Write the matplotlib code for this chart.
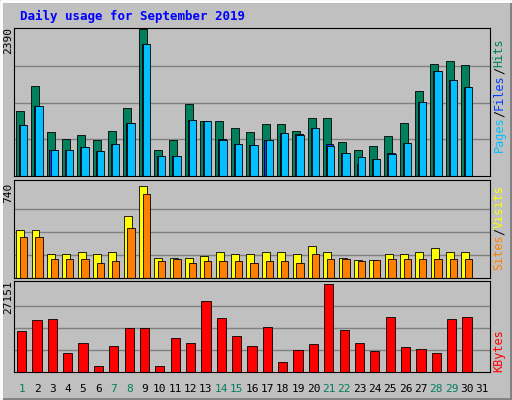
import matplotlib.pyplot as plt

days = list(range(1, 32))
hits = [1055, 1470, 725, 610, 675, 580, 740, 1105, 2390, 430, 580, 1170, 890, 890, 790,
        710, 840, 840, 740, 940, 940, 560, 430, 495, 645, 860, 1385, 1830, 1880, 1815, 0]
files = [830, 1140, 430, 430, 480, 400, 530, 860, 2150, 330, 330, 910, 890, 600, 530,
         510, 580, 700, 680, 780, 520, 380, 200, 280, 370, 545, 1205, 1715, 1570, 1450, 0]
pages = [825, 1140, 430, 430, 480, 400, 530, 860, 2145, 330, 330, 910, 890, 595, 530,
         510, 580, 695, 675, 775, 495, 380, 315, 280, 365, 545, 1205, 1715, 1570, 1450, 0]
visits = [385, 385, 195, 195, 210, 195, 210, 500, 740, 160, 160, 160, 175, 210, 195,
          195, 210, 210, 195, 255, 210, 160, 145, 145, 195, 195, 210, 240, 210, 210, 0]
sites = [330, 330, 155, 155, 155, 120, 135, 400, 675, 135, 155, 120, 135, 135, 135,
         120, 135, 135, 120, 195, 155, 155, 135, 145, 155, 155, 155, 155, 155, 155, 0]
kbytes = [12480, 15900, 16200, 5900, 9050, 1870, 8100, 13400, 13400, 1870, 10600, 9050,
          21850, 16500, 11200, 8100, 13700, 3100, 6860, 8700, 27151, 12800, 9050, 6550,
          16850, 7800, 7200, 5900, 16200, 16850, 0]
weekend = [1, 7, 8, 14, 15, 21, 22, 28, 29]

W, H = 512, 400
fig = plt.figure(figsize=(5.12, 4.0), dpi=100, facecolor='#c0c0c0')
mono = 'DejaVu Sans Mono'

# bevel frame
frame = fig.add_axes([0, 0, 1, 1])
frame.set_xlim(0, W); frame.set_ylim(H, 0); frame.axis('off')
frame.plot([1, W - 1, W - 1], [H - 1, H - 1, 1], color='#808080', lw=2)
frame.plot([1, 1, W - 1], [H - 1, 1, 1], color='white', lw=2)

def panel(top, bottom):
    ax = fig.add_axes([14 / W, 1 - bottom / H, (490 - 14) / W, (bottom - top) / H])
    ax.set_facecolor('#c0c0c0')
    ax.set_xlim(0.5, 31.5)
    ax.set_xticks([])
    ax.set_yticks([])
    for s in ax.spines.values():
        s.set_color('black')
    return ax

def grid(ax, ymax):
    for f in (0.25, 0.5, 0.75):
        ax.axhline(ymax * f, color='#808080', lw=1, zorder=0)

ax1 = panel(28, 176)
ax1.set_ylim(0, 2390 * 1.01)
grid(ax1, 2390)
ax1.bar([d - 0.12 for d in days], hits, width=0.52, color='#00805c', edgecolor='black', lw=0.6)
ax1.bar([d + 0.05 for d in days], files, width=0.48, color='#0040ff', edgecolor='black', lw=0.6)
ax1.bar([d + 0.12 for d in days], pages, width=0.48, color='#00c0ff', edgecolor='black', lw=0.6)

ax2 = panel(180, 278)
ax2.set_ylim(0, 740 * 1.07)
grid(ax2, 740)
ax2.bar([d - 0.1 for d in days], visits, width=0.52, color='#ffff00', edgecolor='black', lw=0.6)
ax2.bar([d + 0.12 for d in days], sites, width=0.48, color='#ff8000', edgecolor='black', lw=0.6)

ax3 = panel(281, 372)
ax3.set_ylim(0, 27151 * 1.03)
grid(ax3, 27151)
ax3.bar(days, kbytes, width=0.6, color='#ff0000', edgecolor='black', lw=0.6)

fig.text(20 / W, 1 - 16 / H, 'Daily usage for September 2019', color='#0000ff',
         family=mono, weight='bold', fontsize=9, va='center')
for y, lab in [(40, '2390'), (193, '740'), (297, '27151')]:
    fig.text(8 / W, 1 - y / H, lab, rotation=90, family=mono, fontsize=8, ha='center', va='center')

for d in days:
    x = 14 + (d - 0.5) / 31 * 476
    fig.text(x / W, 1 - 389 / H, str(d), family=mono, fontsize=8, ha='center', va='center',
             color='#00805c' if d in weekend else 'black')

def stack(y0, parts, fs=8.5):
    cw = fs * 0.6 * 100 / 72
    y = y0
    for txt, col in parts:
        fig.text(499 / W, 1 - y / H, txt, rotation=90, family=mono, fontsize=fs,
                 color=col, ha='center', va='bottom')
        y -= cw * len(txt)

stack(152, [('Pages', '#00c0ff'), ('/', 'black'), ('Files', '#0040ff'),
            ('/', 'black'), ('Hits', '#00805c')])
stack(270, [('Sites', '#ff8000'), ('/', 'black'), ('Visits', '#ffff00')])
stack(372, [('KBytes', '#ff0000')])

fig.savefig('out.png', dpi=100, facecolor=fig.get_facecolor())
